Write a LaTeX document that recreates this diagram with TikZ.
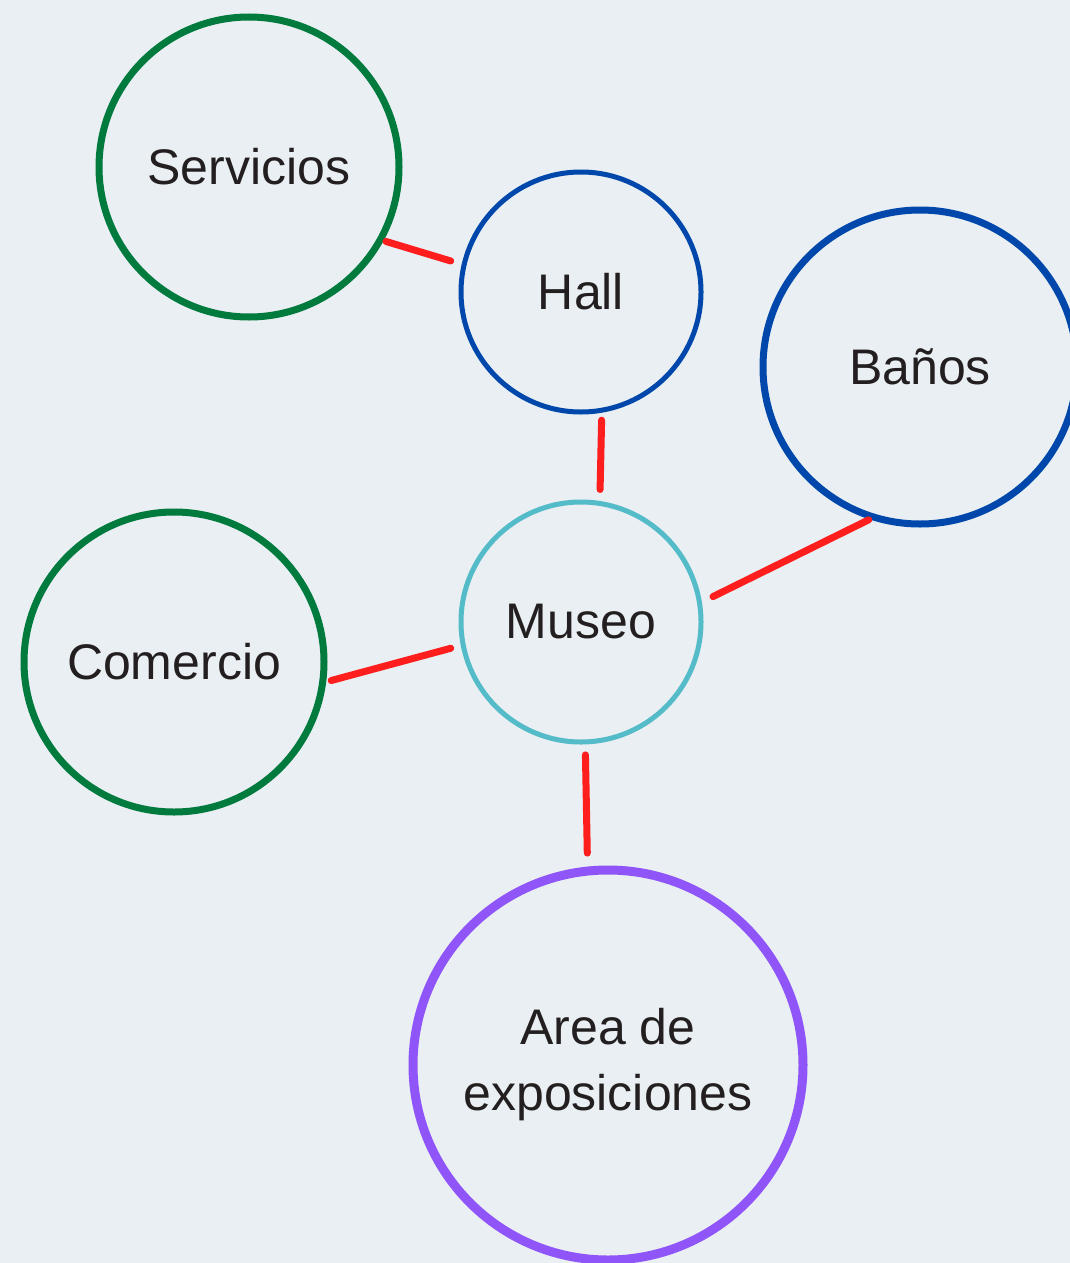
\documentclass[tikz,border=0pt]{standalone}
\usepackage{fontspec}
\setmainfont{Liberation Sans}
\definecolor{bgc}{RGB}{233,239,242}
\definecolor{gr}{RGB}{0,122,61}
\definecolor{bl}{RGB}{0,71,171}
\definecolor{teal}{RGB}{84,187,200}
\definecolor{pu}{RGB}{143,85,248}
\definecolor{rd}{RGB}{255,30,30}
\definecolor{tx}{RGB}{35,31,32}
\begin{document}
\begin{tikzpicture}[x=1pt,y=-1pt,
  bub/.style={circle,draw,inner sep=0pt,outer sep=0pt,text=tx,align=center,
    font=\fontsize{50}{66}\selectfont},
  link/.style={draw=rd,line width=7pt,line cap=round}]
\fill[bgc] (0,0) rectangle (1070,1263);
\useasboundingbox (0,0) rectangle (1070,1263);
\node[bub,draw=gr,line width=7pt,minimum size=300pt] (serv) at (249,167) {Servicios};
\node[bub,draw=bl,line width=5pt,minimum size=240pt] (hall) at (581,292) {Hall};
\node[bub,draw=bl,line width=7pt,minimum size=314pt] (banos) at (920,367) {Baños};
\node[bub,draw=teal,line width=5pt,minimum size=240pt] (museo) at (581,622) {Museo};
\node[bub,draw=gr,line width=7pt,minimum size=300pt] (com) at (174,662) {Comercio};
\node[bub,draw=pu,line width=9pt,minimum size=390pt] (area) at (608,1065) {Area de\\exposiciones};
\draw[link,shorten <=6pt,shorten >=14pt] (serv.-29) -- (hall.167);
\draw[link,shorten <=10pt,shorten >=14pt] (hall.280) -- (museo.81);
\draw[link,shorten <=15pt,shorten >=6pt] (museo.9) -- (banos.253);
\draw[link,shorten <=9pt,shorten >=13pt] (com.-8) -- (museo.191);
\draw[link,shorten <=13pt,shorten >=18pt] (museo.272) -- (area.96);
\end{tikzpicture}
\end{document}
